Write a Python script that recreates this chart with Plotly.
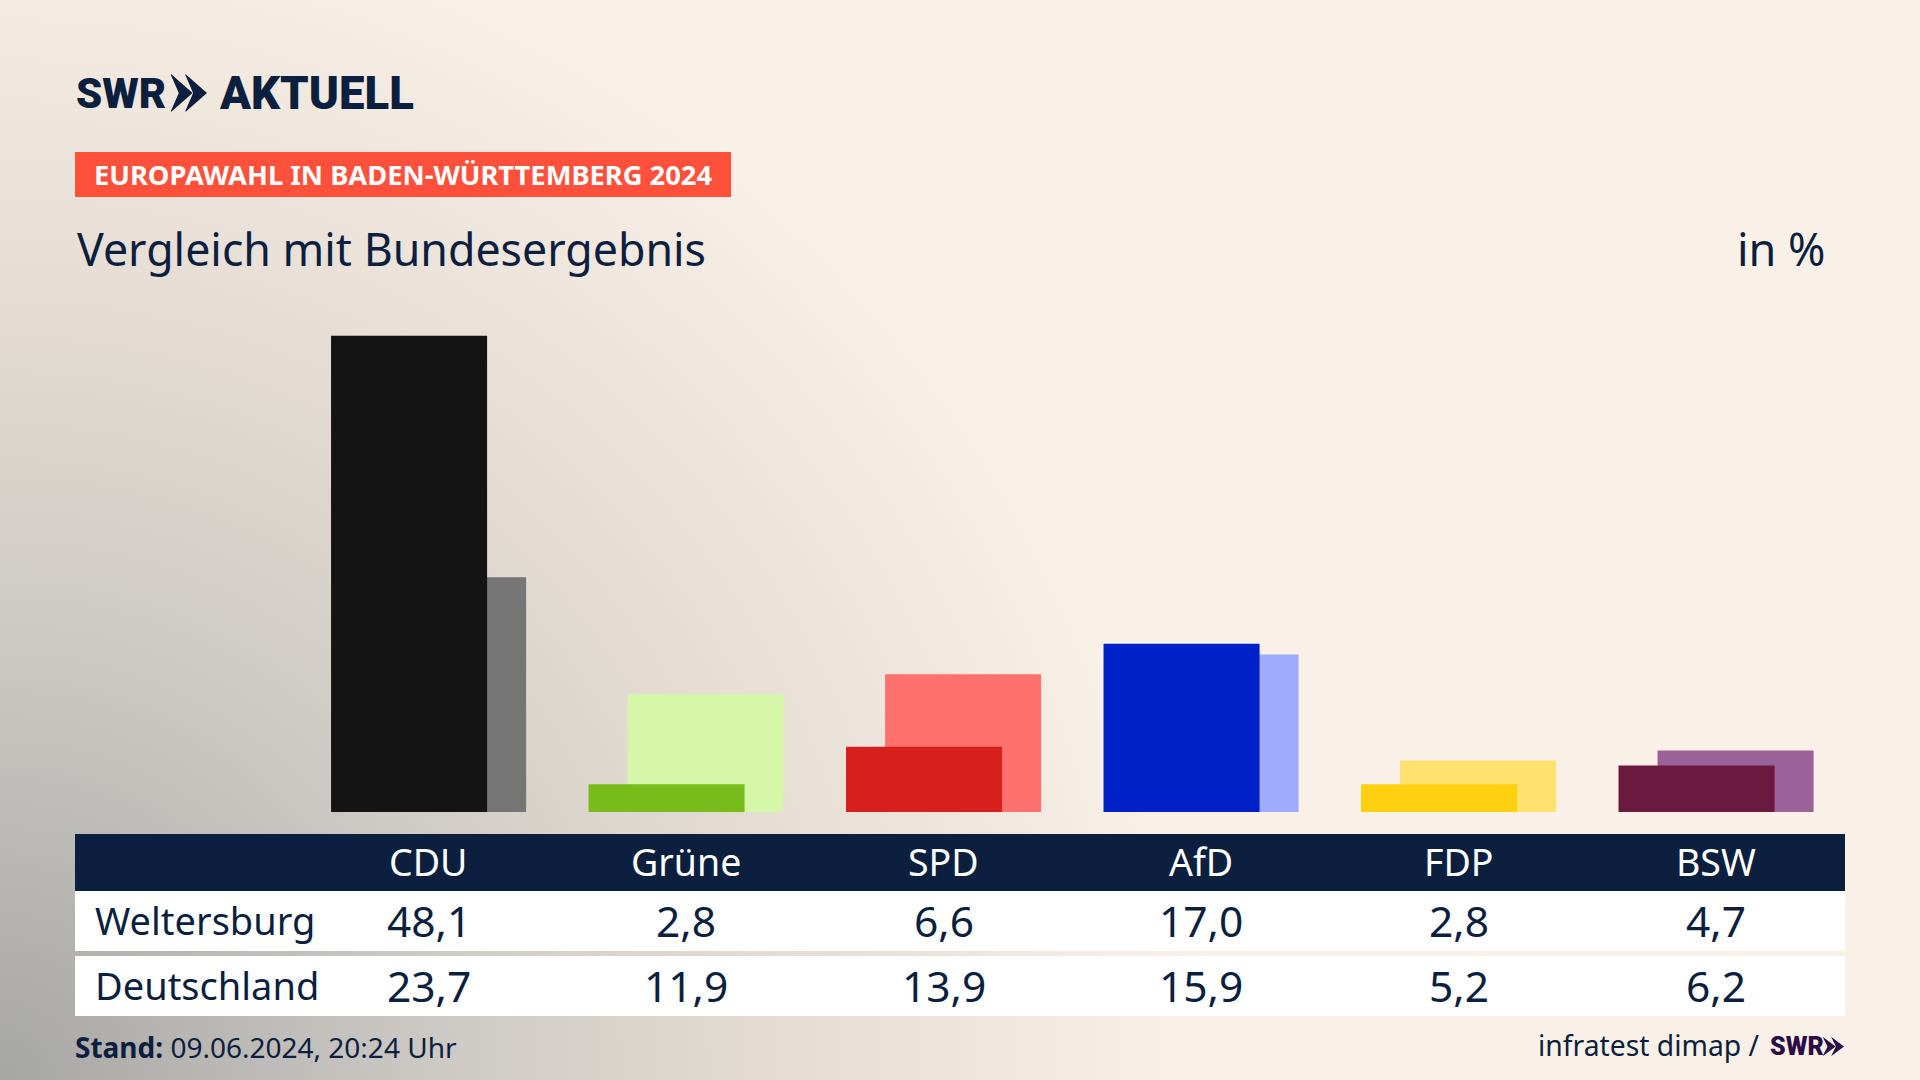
import base64
import plotly.graph_objects as go

parties = ["CDU", "Grüne", "SPD", "AfD", "FDP", "BSW"]
weltersburg = [48.1, 2.8, 6.6, 17.0, 2.8, 4.7]
deutschland = [23.7, 11.9, 13.9, 15.9, 5.2, 6.2]
colors_dark = ["#141414", "#78bc1b", "#d71f1d", "#0021c8", "#ffd00f", "#6a1a3e"]
colors_light = ["#757575", "#d6f6a9", "#ff716d", "#9eabff", "#ffe16f", "#9b6199"]

NAVY = "#0c1f3f"
FONT = "Noto Sans"
LOGO = "Roboto"
W, H = 1920, 1080


def px(x):
    return x / W


def py(y):
    return 1 - y / H


def de(v):
    return f"{v:.1f}".replace(".", ",")


def rect(x0, y0, x1, y1, color):
    return dict(type="rect", xref="paper", yref="paper", x0=px(x0), x1=px(x1),
                y0=py(y0), y1=py(y1), fillcolor=color, line_width=0, layer="below")


def chevrons(x0, x1, y0, y1, color):
    # logo arrows, two overlapping arrowheads
    total = x1 - x0
    w = total * 0.6
    step = total * 0.4
    ym = (y0 + y1) / 2
    flat = (y1 - y0) * 0.03
    d = ""
    for i in range(2):
        a = x0 + i * step
        pts = [(a, y0), (a + w, ym), (a, y1), (a, y1 - flat), (a + 0.36 * w, ym), (a, y0 + flat)]
        d += "M" + " L".join(f"{px(p[0]):.5f},{py(p[1]):.5f}" for p in pts) + " Z "
    return dict(type="path", xref="paper", yref="paper", path=d, fillcolor=color, line_width=0)


def text(x, y, s, size, color=NAVY, anchor="left", xref="paper", family=FONT, weight=None):
    font = dict(family=family, size=size, color=color)
    if weight:
        font["weight"] = weight
    return dict(x=px(x) if xref == "paper" else x, y=py(y), xref=xref, yref="paper", text=s,
                showarrow=False, xanchor=anchor, yanchor="middle", font=font)


bg_svg = f"""<svg xmlns="http://www.w3.org/2000/svg" width="{W}" height="{H}">
<defs><radialGradient id="g" gradientUnits="userSpaceOnUse" cx="0" cy="{H}" r="1400">
<stop offset="0" stop-color="#a6a6a4"/><stop offset="0.3" stop-color="#cbc8c3"/>
<stop offset="0.55" stop-color="#e4dcd3"/><stop offset="0.85" stop-color="#f9f1e7"/>
</radialGradient></defs><rect width="{W}" height="{H}" fill="url(#g)"/></svg>"""
bg_uri = "data:image/svg+xml;base64," + base64.b64encode(bg_svg.encode()).decode()

fig = go.Figure()

fig.add_trace(go.Bar(name="Deutschland", x=parties, y=deutschland, marker_color=colors_light,
                     marker_line_width=0, width=0.606, offset=-0.227))
fig.add_trace(go.Bar(name="Weltersburg", x=parties, y=weltersburg, marker_color=colors_dark,
                     marker_line_width=0, width=0.606, offset=-0.3786))

shapes = [
    rect(75, 152, 731, 197, "#ff503c"),
    rect(75, 834, 1845, 891, NAVY),
    rect(75, 891, 1845, 951, "white"),
    rect(75, 956, 1845, 1016, "white"),
    chevrons(171, 207, 74, 112, NAVY),
    chevrons(1823, 1844, 1037, 1056, "#2a0e45"),
]

annotations = [
    text(74, 93, "SWR", 42, family=LOGO, weight=900),
    text(217, 93, "AKTUELL", 45.5, family=LOGO, weight=900),
    text(92, 175, "EUROPAWAHL IN BADEN-WÜRTTEMBERG 2024", 27.3, color="white", weight=700),
    text(75, 248, "Vergleich mit Bundesergebnis", 44.7),
    text(1828, 248, "in %", 45, anchor="right"),
    text(93, 920, "Weltersburg", 38),
    text(93, 985, "Deutschland", 38),
    text(73, 1047, "<b>Stand:</b> 09.06.2024, 20:24 Uhr", 28),
    text(1762, 1045, "infratest dimap /", 28.3, anchor="right"),
    text(1768, 1046, "SWR", 25, color="#2a0e45", family=LOGO, weight=900),
]

for i, party in enumerate(parties):
    annotations.append(text(party, 861, party, 37.5, color="white", anchor="center", xref="x"))
    annotations.append(text(party, 920, de(weltersburg[i]), 42.5, anchor="center", xref="x"))
    annotations.append(text(party, 985, de(deutschland[i]), 42.5, anchor="center", xref="x"))

fig.update_layout(
    width=W, height=H, autosize=False,
    margin=dict(l=0, r=0, t=0, b=0),
    barmode="overlay",
    showlegend=False,
    paper_bgcolor="#f9f1e7",
    plot_bgcolor="rgba(0,0,0,0)",
    images=[dict(source=bg_uri, xref="paper", yref="paper", x=0, y=1, sizex=1, sizey=1,
                 sizing="stretch", layer="below", xanchor="left", yanchor="top")],
    shapes=shapes,
    annotations=annotations,
    xaxis=dict(domain=[px(75), px(1845)], range=[-1.373, 5.501], visible=False,
               type="category", categoryorder="array", categoryarray=parties),
    yaxis=dict(domain=[py(812), py(300)], range=[0, 51.7], visible=False),
)

fig.write_html("out.html", config={"displayModeBar": False},
               post_script="document.body.style.margin='0';document.body.style.overflow='hidden';")
